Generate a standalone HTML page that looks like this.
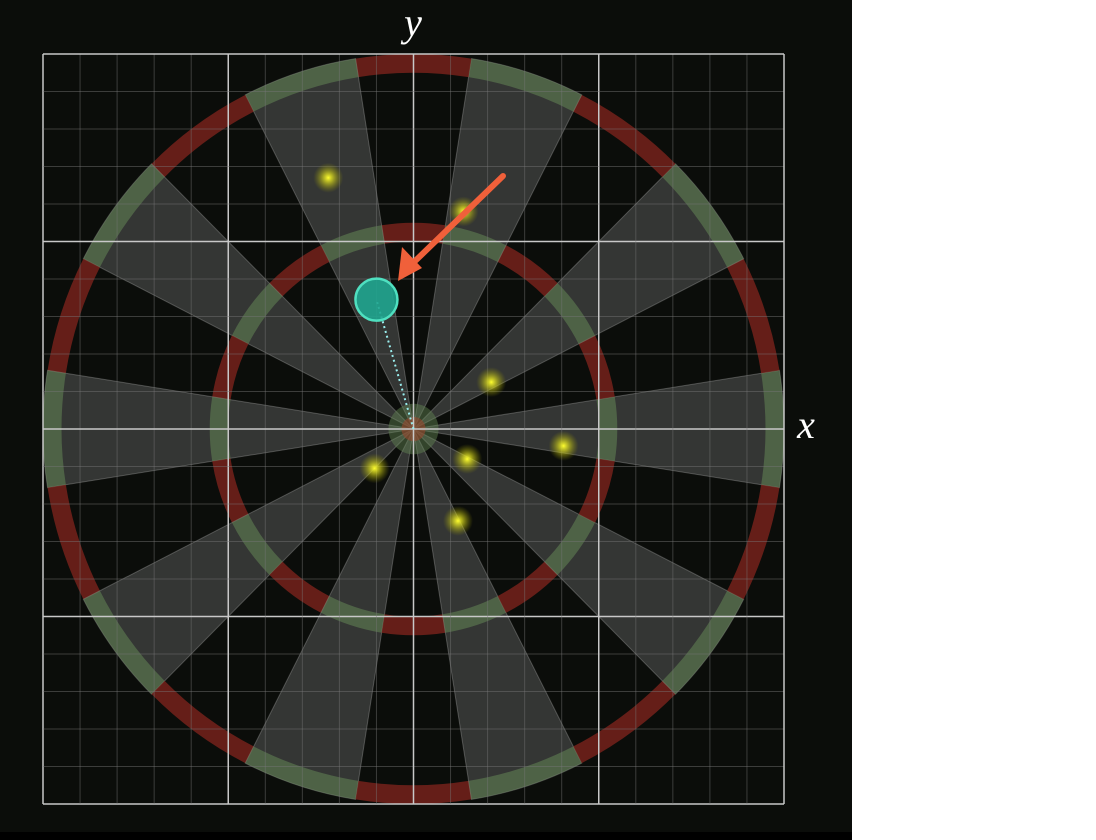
<!DOCTYPE html>
<html><head><meta charset="utf-8"><style>
html,body{margin:0;padding:0;background:#fff;}
svg{display:block;}
</style></head><body>
<svg width="1096" height="840" xmlns="http://www.w3.org/2000/svg">
<defs>
<radialGradient id="glow"><stop offset="0" stop-color="#ffff30" stop-opacity="1"/><stop offset="0.3" stop-color="#d8d820" stop-opacity="0.75"/><stop offset="1" stop-color="#909000" stop-opacity="0"/></radialGradient>
</defs>
<rect x="0" y="0" width="852" height="832" fill="#0b0d0a"/>
<rect x="0" y="832" width="852" height="8" fill="#000"/>
<g id="board"></g>
<g id="grid"></g>
<g id="dots"></g>
<text x="413" y="36" font-family="Liberation Serif, serif" font-style="italic" font-size="40" fill="#fff" text-anchor="middle">y</text>
<text x="806" y="438" font-family="Liberation Serif, serif" font-style="italic" font-size="40" fill="#fff" text-anchor="middle">x</text>
</svg>
<script>
const NS='http://www.w3.org/2000/svg';
const hits=[[-0.46,1.34],[0.27,1.16],[0.42,0.25],[0.81,-0.09],[-0.21,-0.21],[0.29,-0.16],[0.24,-0.49]];
const dartPos=[-0.2,0.69];
const outerR=2.0, innerR=1.1, bullR=0.135;
const cx=413.5, cy=429, ux=185.25, uy=187.5;
const X=v=>cx+v*ux, Y=v=>cy-v*uy;
function mk(tag,attrs,parent){const e=document.createElementNS(NS,tag);for(const k in attrs)e.setAttribute(k,attrs[k]);parent.appendChild(e);return e;}
const grid=document.getElementById('grid');
for(let i=-10;i<=10;i++){
  const v=i/5, major=i%5===0;
  const l1=mk('line',{x1:X(v),x2:X(v),y1:Y(2),y2:Y(-2),stroke:major?'#c8c8c8':'rgba(120,120,120,0.45)','stroke-width':major?1.5:1},grid);
  
  
  const l2=mk('line',{y1:Y(v),y2:Y(v),x1:X(-2),x2:X(2),stroke:major?'#c8c8c8':'rgba(120,120,120,0.45)','stroke-width':major?1.5:1},grid);
  
  
}
const board=document.getElementById('board');
function pt(r,a){return [X(r*Math.cos(a)),Y(r*Math.sin(a))];}
function arc(r0,r1,a0,a1){const p=[pt(r1,a0),pt(r1,a1),pt(r0,a1),pt(r0,a0)];
 return `M${p[0]} A${r1*ux},${r1*uy} 0 0 0 ${p[1]} L${p[2]} A${r0*ux},${r0*uy} 0 0 1 ${p[3]}Z`;}
for(let k=0;k<20;k++){
  const c=k*Math.PI/10, a0=c-Math.PI/20, a1=c+Math.PI/20, light=k%2===0;
  if(light){const w=mk('path',{d:`M${cx},${cy} L${pt(outerR,a0)} A${outerR*ux},${outerR*uy} 0 0 0 ${pt(outerR,a1)}Z`,fill:'rgba(220,220,220,0.2)',stroke:'rgba(200,200,200,0.3)','stroke-width':1},board);
    
    }
  const col=light?'rgba(100,135,85,0.55)':'rgba(140,38,30,0.7)';
  const o=mk('path',{d:arc(outerR-0.1,outerR,a0,a1),fill:col},board);
  
  
  const n=mk('path',{d:arc(innerR-0.1,innerR,a0,a1),fill:col},board);
  
  
}
const b1=mk('ellipse',{cx:cx,cy:cy,rx:bullR*ux,ry:bullR*uy,fill:'rgba(100,135,85,0.45)'},board);


const b2=mk('ellipse',{cx:cx,cy:cy,rx:0.065*ux,ry:0.065*uy,fill:'rgba(150,70,45,0.6)'},board);


const dots=document.getElementById('dots');
hits.forEach(h=>{const d=mk('circle',{cx:X(h[0]),cy:Y(h[1]),r:15,fill:'url(#glow)'},dots);
  
  });
const dl=mk('line',{x1:cx,y1:cy,x2:X(dartPos[0]),y2:Y(dartPos[1]),stroke:'#9ee','stroke-width':2,'stroke-dasharray':'2 3'},dots);


const dc=mk('circle',{cx:X(dartPos[0]),cy:Y(dartPos[1]),r:21,fill:'#1fa58f',stroke:'#4fe0c0','stroke-width':2.5,'fill-opacity':0.9},dots);


const ar=mk('g',{},dots);


mk('line',{x1:503,y1:176,x2:412,y2:264,stroke:'#f0603a','stroke-width':6,'stroke-linecap':'round'},ar);
mk('polygon',{points:'398,281 402,247 422,268',fill:'#f0603a'},ar);
</script>
</body></html>
